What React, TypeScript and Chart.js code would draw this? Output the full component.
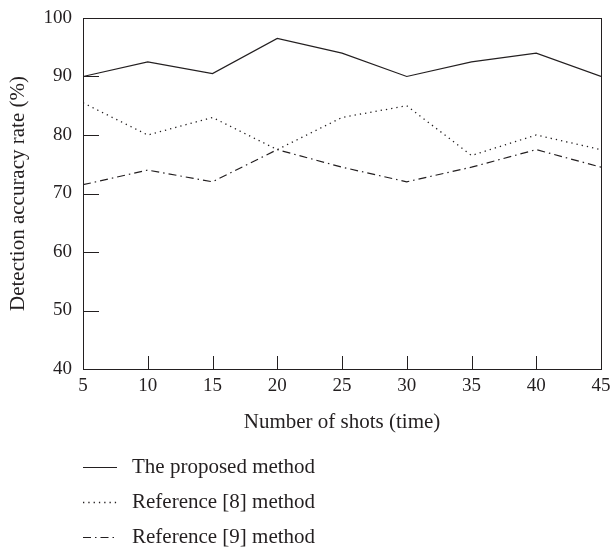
import React, { useEffect, useRef } from "react";
import { Chart, registerables } from "chart.js";

Chart.register(...registerables);

const shots = [5, 10, 15, 20, 25, 30, 35, 40, 45];
const proposed = [90, 92.5, 90.5, 96.5, 94, 90, 92.5, 94, 90];
const ref8 = [85.5, 80, 83, 77.5, 83, 85, 76.5, 80, 77.5];
const ref9 = [71.5, 74, 72, 77.5, 74.5, 72, 74.5, 77.5, 74.5];
const seriesNames = ["The proposed method", "Reference [8] method", "Reference [9] method"];
const yTicks = [40, 50, 60, 70, 80, 90, 100];

const FONT = "'Liberation Serif', 'DejaVu Serif', serif";
const INK = "#231f20";

const innerTicks = {
  id: "innerTicks",
  afterDatasetsDraw(chart: any) {
    const ctx = chart.ctx;
    const xs = chart.scales.x;
    const ys = chart.scales.y;
    const area = chart.chartArea;
    ctx.save();
    ctx.strokeStyle = INK;
    ctx.lineWidth = 1;
    ctx.beginPath();
    xs.ticks.forEach((t: any) => {
      const px = Math.round(xs.getPixelForValue(t.value)) + 0.5;
      if (t.value === xs.min || t.value === xs.max) return;
      ctx.moveTo(px, area.bottom);
      ctx.lineTo(px, area.bottom - 13);
    });
    ys.ticks.forEach((t: any) => {
      const py = Math.round(ys.getPixelForValue(t.value)) + 0.5;
      if (t.value === ys.min || t.value === ys.max) return;
      ctx.moveTo(area.left, py);
      ctx.lineTo(area.left + 16, py);
    });
    ctx.stroke();
    ctx.strokeRect(Math.round(area.left) + 0.5, Math.round(area.top) + 0.5, Math.round(area.right - area.left), Math.round(area.bottom - area.top));
    ctx.restore();
  },
};

const customLegend = {
  id: "customLegend",
  afterDraw(chart: any) {
    const ctx = chart.ctx;
    const left = chart.chartArea.left;
    ctx.save();
    chart.data.datasets.forEach((ds: any, i: number) => {
      const y = 467 + i * 35 + 0.5;
      ctx.strokeStyle = ds.borderColor;
      ctx.lineWidth = ds.borderWidth;
      ctx.setLineDash(ds.borderDash || []);
      ctx.beginPath();
      ctx.moveTo(left, y);
      ctx.lineTo(left + 34, y);
      ctx.stroke();
      ctx.setLineDash([]);
      ctx.fillStyle = INK;
      ctx.font = `21px ${FONT}`;
      ctx.textBaseline = "middle";
      ctx.textAlign = "left";
      ctx.fillText(ds.label, left + 49, y);
    });
    ctx.restore();
  },
};

export default function App() {
  const ref = useRef<HTMLCanvasElement>(null);
  useEffect(() => {
    if (!ref.current) return;
    const mk = (vals: number[]) => shots.map((x, i) => ({ x, y: vals[i] }));
    const chart = new Chart(ref.current, {
      type: "line",
      data: {
        datasets: [
          { label: seriesNames[0], data: mk(proposed), borderColor: INK, borderWidth: 1.2, borderDash: [], pointRadius: 0, tension: 0 },
          { label: seriesNames[1], data: mk(ref8), borderColor: INK, borderWidth: 1.3, borderDash: [1.3, 4], pointRadius: 0, tension: 0 },
          { label: seriesNames[2], data: mk(ref9), borderColor: INK, borderWidth: 1.2, borderDash: [8, 4, 1.5, 4], pointRadius: 0, tension: 0 },
        ],
      },
      options: {
        animation: false,
        responsive: false,
        layout: { padding: { left: 0, top: 18, right: 10, bottom: 113 } },
        plugins: { legend: { display: false }, tooltip: { enabled: false } },
        scales: {
          x: {
            type: "linear",
            min: 5,
            max: 45,
            afterBuildTicks: (s: any) => { s.ticks = shots.map((v) => ({ value: v })); },
            afterFit: (s: any) => { s.paddingLeft = 0; s.paddingRight = 0; },
            grid: { display: false, drawTicks: false },
            border: { display: false },
            ticks: { color: INK, font: { family: FONT, size: 19 }, padding: 6, maxRotation: 0, autoSkip: false },
            title: { display: true, text: "Number of shots (time)", color: INK, font: { family: FONT, size: 21 }, padding: { top: 6, bottom: 0 } },
          },
          y: {
            min: 40,
            max: 100,
            afterBuildTicks: (s: any) => { s.ticks = yTicks.map((v) => ({ value: v })); },
            afterFit: (s: any) => { s.width = 83; s.paddingTop = 0; s.paddingBottom = 0; },
            grid: { display: false, drawTicks: false },
            border: { display: false },
            ticks: { color: INK, font: { family: FONT, size: 19 }, padding: 11 },
            title: { display: true, text: "Detection accuracy rate (%)", color: INK, font: { family: FONT, size: 21 }, padding: { top: 6, bottom: 0 } },
          },
        },
      },
      plugins: [innerTicks, customLegend],
    });
    return () => chart.destroy();
  }, []);
  return (
    <div style={{ position: "fixed", left: 0, top: 0, width: 611, height: 548, background: "#fff" }}>
      <canvas ref={ref} width={611} height={548} />
    </div>
  );
}
